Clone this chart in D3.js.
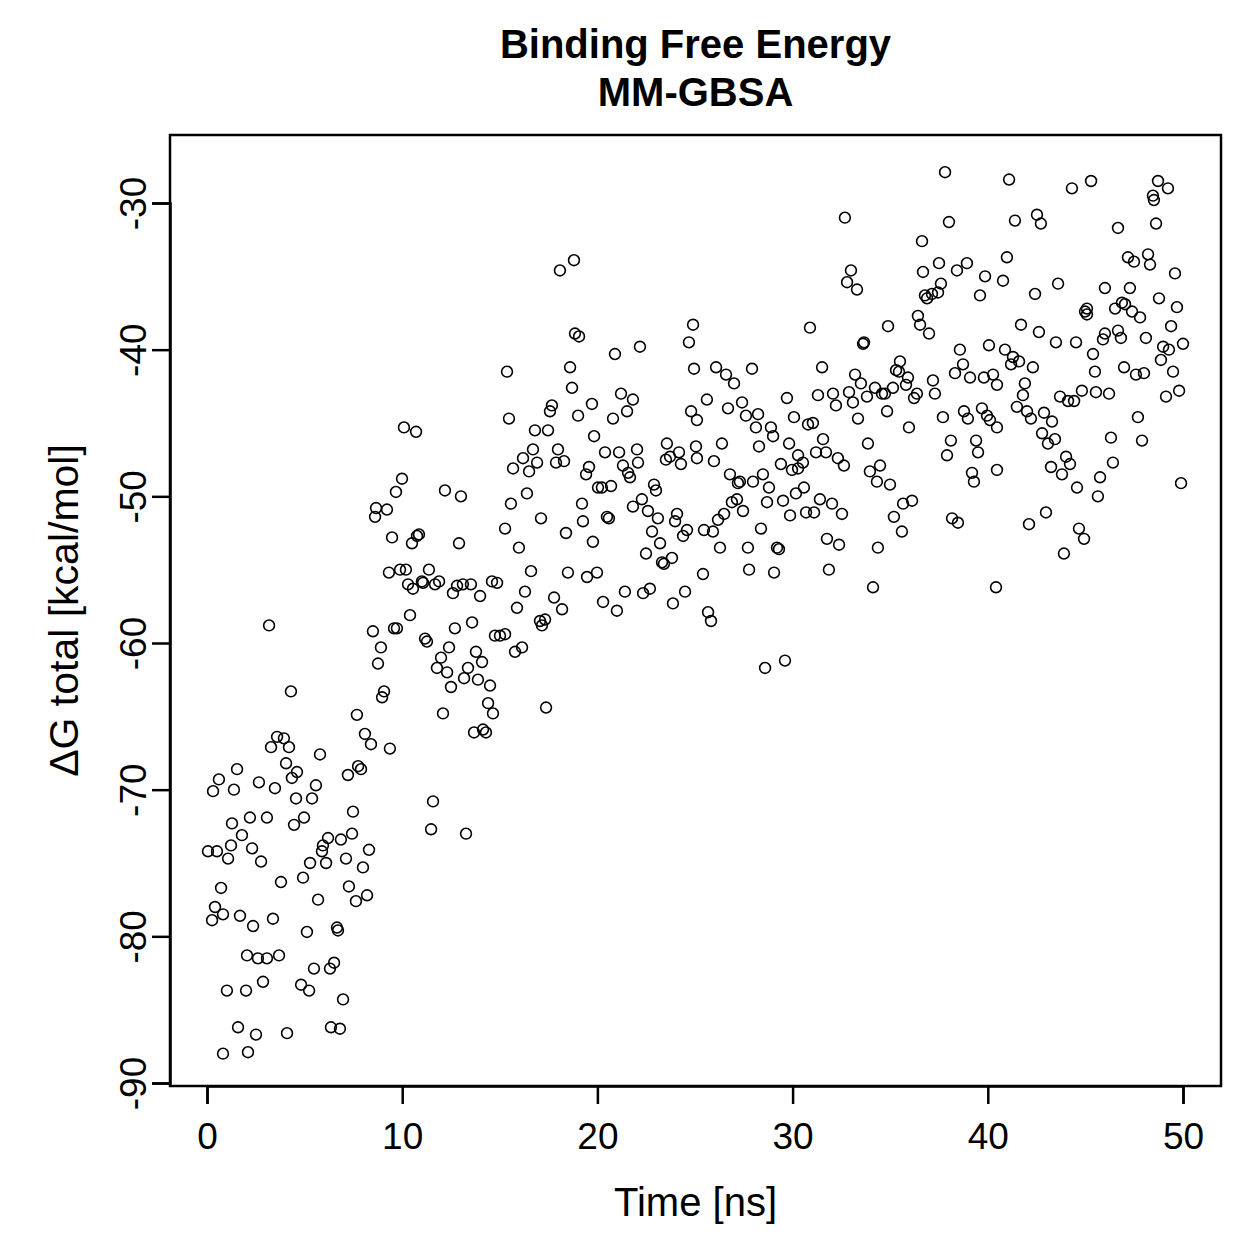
<!DOCTYPE html>
<html>
<head>
<meta charset="utf-8">
<script src="https://cdn.jsdelivr.net/npm/d3@7"></script>
<style>
  body { margin: 0; background: #ffffff; }
  text { font-family: "Liberation Sans", Arial, Helvetica, sans-serif; fill: #000; }
</style>
</head>
<body>
<div id="chart"></div>
<script>
// data
var timeNs = [
  3.18, 4.30, 3.59, 3.94, 3.28, 4.20, 4.05, 4.61, 4.35, 1.54, 0.61, 0.31, 1.38, 2.66, 3.48, 4.56,
  1.28, 2.20, 3.07, 4.46, 1.79, 0.05, 0.51, 1.23, 1.08, 2.31, 2.77, 0.72, 3.79, 0.41, 0.26, 0.82,
  1.69, 2.36, 3.38, 2.05, 2.61, 3.07, 3.69, 1.02, 2.00, 2.87, 1.59, 2.51, 4.10, 0.82, 2.10,
  8.50, 9.58, 9.73, 8.91, 8.76, 9.07, 8.97, 7.68, 8.09, 8.40, 9.37, 5.79, 7.74, 7.89, 7.22, 5.58,
  5.38, 7.48, 4.97, 7.43, 6.20, 6.86, 5.94, 5.89, 6.10, 5.28, 7.12, 8.30, 7.99, 4.92, 7.27, 8.20,
  7.63, 5.69, 6.66, 6.71, 5.12, 5.48, 6.30, 6.51, 4.82, 5.23, 6.97, 6.35, 6.81,
  10.09, 10.71, 9.99, 9.68, 12.19, 13.01, 8.66, 9.22, 8.61, 9.48, 10.86, 10.76, 10.50, 12.91, 9.32, 9.89,
  10.19, 11.37, 10.30, 10.55, 11.01, 11.07, 11.68, 11.89, 12.60, 12.81, 13.11, 13.52, 13.99, 14.60, 14.86, 10.40,
  12.70, 13.58, 11.17, 11.27, 14.75, 15.01, 15.27, 12.40, 11.99, 11.78, 12.30, 13.78, 14.09, 13.37, 13.17, 13.88,
  14.50, 12.50, 14.40, 14.65, 12.09, 13.68, 14.14, 14.29, 11.58, 11.48, 13.27,
  18.08, 18.80, 18.85, 19.06, 15.37, 18.60, 18.70, 19.72, 17.67, 17.57, 19.01, 15.47, 16.80, 17.47, 19.83, 16.70,
  16.19, 16.91, 15.68, 16.50, 17.98, 17.88, 18.29, 19.57, 19.42, 15.57, 16.39, 19.21, 17.11, 19.26, 15.27, 18.39,
  15.98, 19.77, 16.60, 18.49, 19.47, 19.98, 16.29, 17.78, 18.19, 15.88, 17.06, 17.32, 17.16, 15.78, 16.14, 17.37,
  20.90, 22.18, 24.90, 24.69, 24.95, 21.21, 21.82, 21.52, 20.80, 24.80, 25.10, 20.39, 21.11, 22.03, 21.31, 22.08,
  21.57, 21.67, 23.56, 23.51, 23.72, 24.18, 24.28, 25.05, 25.10, 20.03, 20.23, 20.70, 22.90, 23.00, 21.82, 22.28,
  22.59, 23.10, 24.08, 23.98, 24.59, 24.39, 20.49, 20.59, 22.80, 23.21, 22.49, 23.31, 23.41, 23.82, 21.41, 20.29,
  21.00, 22.34, 22.69, 24.49, 23.87,
  26.08, 26.59, 27.00, 27.92, 25.61, 26.69, 27.41, 27.61, 28.23, 28.12, 28.89, 29.00, 29.71, 30.07, 26.38, 25.97,
  28.28, 29.82, 30.28, 29.40, 29.97, 30.28, 26.79, 27.20, 27.30, 27.97, 28.48, 28.79, 26.89, 27.15, 27.46, 28.69,
  29.51, 29.87, 30.17, 26.49, 26.18, 25.92, 25.46, 28.38, 26.28, 27.71, 29.20, 29.30, 25.41, 27.77, 29.05, 25.67,
  25.82, 28.59, 29.61,
  32.68, 32.99, 32.79, 33.30, 30.89, 34.89, 33.66, 33.61, 31.51, 33.20, 33.50, 34.22, 35.14, 34.58, 34.73, 33.81,
  32.89, 33.09, 32.07, 32.22, 31.30, 34.84, 33.35, 30.79, 31.04, 31.56, 31.20, 31.71, 32.32, 32.63, 30.53, 33.86,
  33.96, 34.48, 34.32, 34.99, 30.58, 31.40, 32.02, 32.53, 30.69, 31.10, 35.19, 31.76, 32.38, 34.37, 31.86, 34.12,
  37.81, 38.01, 36.63, 37.50, 38.93, 38.42, 36.68, 37.60, 39.86, 39.60, 36.78, 36.89, 37.14, 37.45, 36.42, 36.53,
  36.99, 38.57, 40.06, 35.50, 35.30, 35.45, 35.91, 35.81, 36.37, 36.22, 37.19, 37.29, 38.32, 38.73, 39.09, 39.80,
  40.27, 40.47, 35.96, 37.70, 38.78, 38.98, 39.70, 39.96, 40.11, 40.47, 38.11, 37.91, 39.40, 39.50, 40.47, 39.19,
  39.29, 35.66, 36.12, 35.60, 38.17, 38.47,
  41.09, 44.31, 45.29, 41.39, 42.52, 42.72, 40.98, 40.78, 42.42, 43.60, 45.08, 44.98, 45.08, 41.70, 42.62, 43.49,
  44.52, 40.88, 41.29, 41.19, 41.60, 42.31, 45.39, 45.49, 41.90, 41.80, 44.82, 45.54, 43.70, 41.49, 42.01, 42.21,
  42.88, 43.29, 44.11, 44.42, 42.78, 43.08, 43.44, 44.01, 44.21, 43.24, 43.80, 44.57, 45.75, 45.64, 42.98, 42.11,
  44.67, 44.93, 43.90, 40.42,
  48.72, 49.23, 48.46, 48.51, 46.67, 48.62, 47.18, 47.49, 48.21, 48.31, 49.59, 46.00, 47.28, 46.87, 46.52, 47.03,
  47.39, 47.80, 48.77, 49.69, 49.39, 46.00, 45.90, 46.67, 46.82, 48.10, 48.98, 49.28, 48.87, 50.00, 46.98, 47.59,
  48.00, 49.49, 46.21, 49.13, 49.80, 47.69, 46.31, 47.90, 46.41, 49.90
];
var dgTotal = [
  -58.8, -63.3, -66.4, -66.5, -67.1, -67.1, -68.2, -68.8, -69.2, -68.6, -69.3, -70.1, -70.0, -69.5, -69.9, -70.6,
  -72.3, -71.9, -71.9, -72.4, -73.1, -74.2, -74.2, -73.8, -74.7, -74.0, -74.9, -76.7, -76.3, -78.0, -78.9, -78.5,
  -78.6, -79.3, -78.8, -81.3, -81.5, -81.5, -81.3, -83.7, -83.7, -83.1, -86.2, -86.7, -86.6, -88.0, -87.9,
  -59.2, -59.0, -59.0, -60.3, -61.4, -63.3, -63.7, -64.9, -66.2, -66.9, -67.2, -67.6, -68.4, -68.6, -69.0, -69.7,
  -70.6, -71.5, -71.9, -73.0, -73.3, -73.4, -73.8, -74.2, -75.0, -75.0, -74.7, -74.1, -75.3, -76.0, -76.6, -77.2,
  -77.6, -77.5, -79.4, -79.6, -79.7, -82.2, -82.2, -81.8, -83.3, -83.7, -84.3, -86.2, -86.3,
  -45.3, -45.6, -48.8, -49.7, -49.6, -50.0, -50.8, -50.9, -51.4, -52.8, -52.6, -52.7, -53.2, -53.2, -55.2, -55.0,
  -55.0, -55.0, -56.0, -56.3, -55.8, -55.9, -56.0, -55.8, -56.6, -56.1, -56.0, -56.0, -56.8, -55.8, -55.9, -58.1,
  -59.0, -58.6, -59.7, -59.9, -59.5, -59.5, -59.4, -60.3, -61.0, -61.7, -62.0, -60.6, -61.3, -61.7, -62.4, -62.5,
  -62.9, -63.0, -64.1, -64.8, -64.8, -66.1, -65.9, -66.1, -70.8, -72.7, -73.0,
  -34.6, -33.9, -38.9, -39.1, -41.5, -41.2, -42.6, -43.7, -43.8, -44.2, -44.5, -44.7, -45.5, -45.5, -45.9, -46.8,
  -47.4, -47.7, -48.1, -48.3, -46.8, -47.7, -47.6, -48.0, -48.5, -50.5, -49.8, -50.5, -51.5, -51.7, -52.2, -52.5,
  -53.5, -53.1, -55.1, -55.2, -55.5, -55.2, -56.5, -56.9, -57.7, -57.6, -58.5, -58.4, -58.8, -60.6, -60.3, -64.4,
  -40.3, -39.8, -38.3, -39.5, -41.3, -43.0, -43.4, -44.2, -44.7, -44.2, -44.8, -47.0, -47.0, -46.8, -47.9, -47.7,
  -48.4, -48.7, -46.4, -47.5, -47.3, -47.0, -47.8, -46.6, -47.4, -49.4, -49.4, -49.3, -49.2, -49.6, -50.7, -50.2,
  -51.0, -51.5, -51.2, -51.7, -52.3, -52.7, -51.4, -51.5, -52.4, -53.2, -53.9, -54.5, -54.6, -54.2, -56.5, -57.2,
  -57.8, -56.6, -56.3, -56.5, -57.3,
  -41.2, -41.7, -42.3, -41.3, -43.4, -44.0, -43.6, -44.5, -44.4, -45.3, -45.3, -45.9, -43.3, -44.6, -46.4, -47.6,
  -46.6, -46.4, -47.2, -47.8, -48.2, -48.1, -48.5, -49.1, -49.0, -49.0, -48.5, -49.4, -50.4, -50.2, -51.0, -50.4,
  -50.3, -51.3, -49.8, -51.2, -51.6, -52.4, -52.3, -52.2, -53.5, -53.5, -53.5, -53.6, -55.3, -55.0, -55.2, -57.9,
  -58.5, -61.7, -61.2,
  -31.0, -34.6, -35.4, -35.9, -38.5, -38.4, -39.5, -39.6, -41.2, -41.7, -42.3, -42.6, -42.6, -43.0, -43.0, -43.2,
  -42.9, -43.6, -43.0, -43.8, -43.1, -44.2, -44.7, -45.1, -45.0, -46.1, -47.0, -47.0, -47.4, -47.9, -47.7, -46.4,
  -48.3, -47.9, -49.0, -49.2, -49.4, -50.2, -50.5, -51.2, -51.1, -51.1, -51.4, -52.9, -53.3, -53.5, -55.0, -56.2,
  -27.9, -31.3, -32.6, -34.1, -34.1, -34.6, -34.7, -35.5, -35.0, -36.3, -36.3, -36.5, -36.2, -36.1, -37.7, -38.3,
  -38.9, -40.0, -39.7, -40.8, -41.4, -41.5, -41.9, -42.4, -43.0, -43.3, -42.1, -43.0, -41.6, -41.0, -41.9, -41.9,
  -41.7, -42.4, -45.3, -44.6, -44.2, -44.7, -44.0, -44.5, -44.8, -45.3, -46.2, -47.2, -46.2, -47.0, -48.2, -48.4,
  -49.0, -50.5, -50.3, -52.4, -51.5, -51.8,
  -28.4, -29.0, -28.5, -31.2, -30.8, -31.4, -33.7, -35.3, -36.2, -35.5, -37.2, -37.4, -37.6, -38.3, -38.8, -39.5,
  -39.5, -40.0, -40.5, -41.0, -40.8, -41.2, -40.3, -41.5, -42.3, -43.1, -42.8, -42.9, -43.2, -43.9, -44.2, -44.7,
  -44.3, -44.9, -43.5, -43.5, -45.7, -46.4, -46.1, -47.3, -47.8, -48.0, -48.5, -49.4, -48.7, -50.0, -51.1, -51.9,
  -52.2, -52.9, -53.9, -56.2,
  -28.5, -29.0, -29.5, -29.8, -31.7, -31.4, -33.7, -34.0, -33.5, -34.2, -34.8, -35.8, -35.8, -36.8, -37.2, -36.9,
  -37.4, -37.8, -36.5, -37.1, -38.4, -38.9, -39.3, -38.7, -39.2, -39.2, -39.8, -40.0, -40.7, -39.6, -41.2, -41.7,
  -41.6, -41.5, -43.0, -43.2, -42.8, -44.6, -46.0, -46.2, -47.7, -49.1
];
var xTicks = [0, 10, 20, 30, 40, 50];
var yTicks = [-90, -80, -70, -60, -50, -40, -30];
var titleLines = ["Binding Free Energy", "MM-GBSA"];
var xLabel = "Time [ns]";
var yLabel = "\u0394G total [kcal/mol]";

var width = 1259, height = 1259;
// plot box edges
var boxLeft = 170, boxRight = 1221, boxTop = 135, boxBottom = 1086;

var x = d3.scaleLinear().domain([0, 50]).range([207, 1183]);
var y = d3.scaleLinear().domain([-90, -30]).range([1083, 203]);

var svg = d3.select('#chart')
  .append('svg')
    .attr('width', width)
    .attr('height', height);

svg.append('rect')
  .attr('width', width).attr('height', height).attr('fill', '#fff');

// points
var pts = d3.zip(timeNs, dgTotal);
svg.append('g')
  .selectAll('circle')
  .data(pts)
  .enter()
  .append('circle')
    .attr('cx', function(d) { return x(d[0]); })
    .attr('cy', function(d) { return y(d[1]); })
    .attr('r', 5.4)
    .attr('fill', 'none')
    .attr('stroke', '#000')
    .attr('stroke-width', 1.6);

// box
svg.append('rect')
  .attr('x', boxLeft).attr('y', boxTop)
  .attr('width', boxRight - boxLeft).attr('height', boxBottom - boxTop)
  .attr('fill', 'none').attr('stroke', '#000').attr('stroke-width', 2.5);

// x axis
var xAxis = d3.axisBottom(x)
  .tickValues(xTicks)
  .tickSize(18)
  .tickPadding(10)
  .tickFormat(d3.format('d'));
var gx = svg.append('g')
  .attr('transform', 'translate(0,' + boxBottom + ')')
  .call(xAxis);
gx.select('.domain').attr('stroke-width', 2.5);
gx.selectAll('.tick line').attr('stroke-width', 2.5);
gx.selectAll('.tick text')
  .attr('font-size', '37px')
  .attr('font-family', '"Liberation Sans", Arial, sans-serif')
  .attr('dy', null)
  .attr('y', 63);

// y axis
var yAxis = d3.axisLeft(y)
  .tickValues(yTicks)
  .tickSize(18)
  .tickFormat(function(d) { return String(d); });
var gy = svg.append('g')
  .attr('transform', 'translate(' + boxLeft + ',0)')
  .call(yAxis);
gy.select('.domain').attr('stroke-width', 2.5);
gy.selectAll('.tick line').attr('stroke-width', 2.5);
gy.selectAll('.tick text')
  .attr('font-size', '37px')
  .attr('font-family', '"Liberation Sans", Arial, sans-serif')
  .attr('x', 0).attr('y', 0).attr('dy', null)
  .style('text-anchor', 'middle')
  .attr('transform', 'translate(-24,0) rotate(-90)');

// axis labels
svg.append('text')
  .text(xLabel)
  .attr('x', (boxLeft + boxRight) / 2)
  .attr('y', 1216)
  .attr('font-size', '40px')
  .style('text-anchor', 'middle');

svg.append('text')
  .text(yLabel)
  .attr('transform', 'translate(78,' + ((boxTop + boxBottom) / 2) + ') rotate(-90)')
  .attr('font-size', '41px')
  .style('text-anchor', 'middle');

// title
svg.append('g')
  .selectAll('text.title')
  .data(titleLines)
  .enter()
  .append('text')
    .attr('class', 'title')
    .text(function(d) { return d; })
    .attr('x', (boxLeft + boxRight) / 2)
    .attr('y', function(d, i) { return 58 + i * 48; })
    .attr('font-size', '40px')
    .attr('font-weight', 'bold')
    .style('text-anchor', 'middle');
</script>
</body>
</html>
